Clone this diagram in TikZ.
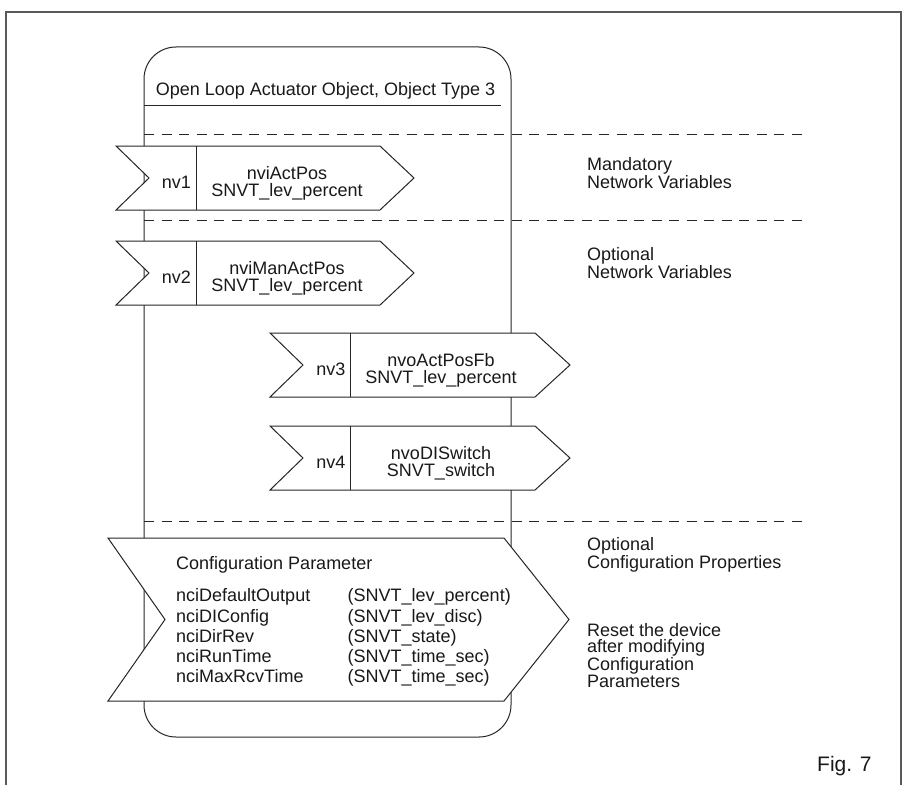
\documentclass[tikz,border=0pt]{standalone}
\usepackage{fontspec}
\setmainfont{Liberation Sans}
\tikzset{
  ln/.style={draw=black!85, line width=1pt},
  dsh/.style={draw=black!85, line width=1pt, dash pattern=on 10pt off 7.5pt},
  frm/.style={draw=black!65, line width=2pt},
  nvbox/.style={ln, fill=white, line join=miter},
  txt/.style={font=\fontsize{18}{18}\selectfont, inner sep=0pt, text=black!90},
  tight/.style={font=\fontsize{18}{16.5}\selectfont, inner sep=0pt, text=black!90},
  listtxt/.style={font=\fontsize{18}{20.3}\selectfont, inner sep=0pt, text=black!90, align=left, anchor=base west},
  figtxt/.style={font=\fontsize{21}{21}\selectfont, inner sep=0pt, text=black!90},
}
\begin{document}
\begin{tikzpicture}[x=1pt,y=-1pt]
\clip (0,0) rectangle (909,784);
\useasboundingbox (0,0) rectangle (909,784);
% outer frame
\draw[frm] (6,800) -- (6,12) -- (901,12) -- (901,800);
% object rounded box
\draw[ln, rounded corners=32pt] (144,47) rectangle (511,737);
\draw[ln] (144,105) -- (501,105);
\node[txt, anchor=base] (title) at (325.5,95) {Open Loop Actuator Object, Object Type 3};
% dashed separators
\draw[dsh] (144,134) -- (807,134);
\draw[dsh] (144,220) -- (807,220);
\draw[dsh] (144,521) -- (807,521);
% nv1
\draw[nvbox] (116,146) -- (380,146) -- (414,178) -- (380,210) -- (116,210) -- (149,178) -- cycle;
\draw[ln] (196,146) -- (196,210);
\node[txt, anchor=base east] (nv1) at (191,188.5) {nv1};
\node[tight, align=center, anchor=base] (nv1t) at (287,196) {nviActPos\\SNVT\_lev\_percent};
% nv2
\draw[nvbox] (116,241) -- (380,241) -- (414,273) -- (380,305) -- (116,305) -- (149,273) -- cycle;
\draw[ln] (196,241) -- (196,305);
\node[txt, anchor=base east] (nv2) at (191,283.5) {nv2};
\node[tight, align=center, anchor=base] (nv2t) at (287,291) {nviManActPos\\SNVT\_lev\_percent};
% nv3
\draw[nvbox] (270,333) -- (535,333) -- (570,365) -- (535,397) -- (270,397) -- (303,365) -- cycle;
\draw[ln] (350,333) -- (350,397);
\node[txt, anchor=base east] (nv3) at (345.5,375.5) {nv3};
\node[tight, align=center, anchor=base] (nv3t) at (441,383) {nvoActPosFb\\SNVT\_lev\_percent};
% nv4
\draw[nvbox] (270,426) -- (535,426) -- (570,458) -- (535,490) -- (270,490) -- (303,458) -- cycle;
\draw[ln] (350,426) -- (350,490);
\node[txt, anchor=base east] (nv4) at (345.5,468.5) {nv4};
\node[tight, align=center, anchor=base] (nv4t) at (441,476) {nvoDISwitch\\SNVT\_switch};
% configuration parameter arrow
\draw[nvbox] (108,538) -- (504,538) -- (569,619.5) -- (504,701) -- (108,701) -- (165,619.5) -- cycle;
\node[txt, anchor=base west] (cfgt) at (176,569) {Configuration Parameter};
\node[listtxt] (cnames) at (176,682.9) {nciDefaultOutput\\nciDIConfig\\nciDirRev\\nciRunTime\\nciMaxRcvTime};
\node[listtxt] (ctypes) at (347.5,682.9) {(SNVT\_lev\_percent)\\(SNVT\_lev\_disc)\\(SNVT\_state)\\(SNVT\_time\_sec)\\(SNVT\_time\_sec)};
% right-hand annotations
\node[tight, align=left, anchor=base west] (mand) at (587,188.5) {Mandatory\\Network Variables};
\node[tight, align=left, anchor=base west] (optnv) at (587,278.5) {Optional\\Network Variables};
\node[tight, align=left, anchor=base west] (optcp) at (587,568) {Optional\\Configuration Properties};
\node[tight, align=left, anchor=base west] (reset) at (587,687) {Reset the device\\after modifying\\Configuration\\Parameters};
\node[figtxt, anchor=base west] (fig) at (817,771) {Fig. 7};
\end{tikzpicture}
\end{document}
